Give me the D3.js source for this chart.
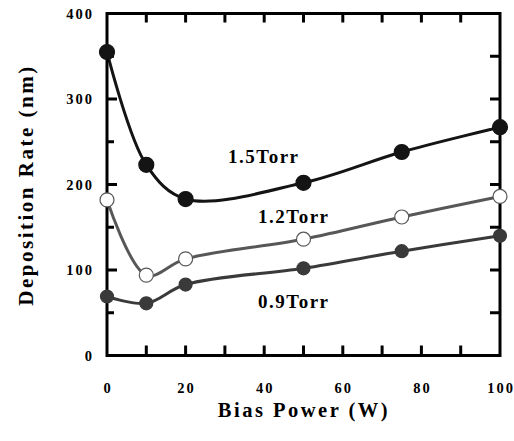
<!DOCTYPE html>
<html>
<head>
<meta charset="utf-8">
<script src="https://cdn.jsdelivr.net/npm/d3@7"></script>
<style>
  body { margin: 0; background: #fff; }
  text { font-family: "Liberation Serif", "Times New Roman", serif; font-weight: bold; }
</style>
</head>
<body>
<script>
// bias power (W)
const power = [0, 10, 20, 50, 75, 100];
// deposition rate (nm) per pressure
const rate15 = [355, 223, 183, 202, 238, 267];
const rate12 = [182, 94, 113, 136, 162, 186];
const rate09 = [69, 61, 83, 102, 122, 140];

const xTicks = [0, 20, 40, 60, 80, 100];
const yTicks = [0, 100, 200, 300, 400];

const width = 514, height = 441;
const margin = {top: 13.5, right: 14, bottom: 85.5, left: 107};

const svg = d3.select("body").append("svg")
  .attr("width", width)
  .attr("height", height);

const x = d3.scaleLinear().domain([0, 100]).range([margin.left, width - margin.right]);
const y = d3.scaleLinear().domain([0, 400]).range([height - margin.bottom, margin.top]);

// series
const series = [
  {name: "0.9Torr", values: rate09, stroke: "#3a3a3a", fill: "#3a3a3a", r: 6.5, lx: 258, ly: 308},
  {name: "1.2Torr", values: rate12, stroke: "#575757", fill: "#fff", r: 7, lx: 258, ly: 223},
  {name: "1.5Torr", values: rate15, stroke: "#141414", fill: "#141414", r: 7.5, lx: 228, ly: 163}
];

const line = d3.line()
  .x((d, i) => x(power[i]))
  .y(d => y(d))
  .curve(d3.curveCatmullRom);

series.forEach(s => {
  svg.append("path")
    .attr("d", line(s.values))
    .attr("fill", "none")
    .attr("stroke", s.stroke)
    .attr("stroke-width", 3);
});

// frame
const g = svg.append("g");
g.append("rect")
  .attr("x", x(0)).attr("y", y(400))
  .attr("width", x(100) - x(0)).attr("height", y(0) - y(400))
  .attr("fill", "none").attr("stroke", "#000").attr("stroke-width", 3);

// x ticks, inward on top and bottom
d3.range(10, 100, 10).forEach(v => {
  g.append("line").attr("x1", x(v)).attr("x2", x(v))
    .attr("y1", y(0)).attr("y2", y(0) - 10)
    .attr("stroke", "#000").attr("stroke-width", 3);
  g.append("line").attr("x1", x(v)).attr("x2", x(v))
    .attr("y1", y(400)).attr("y2", y(400) + 9)
    .attr("stroke", "#000").attr("stroke-width", 3);
});

// y ticks, left and right
d3.range(50, 400, 50).forEach(v => {
  const major = v % 100 === 0;
  g.append("line").attr("x1", x(0)).attr("x2", x(0) + (major ? 10 : 7))
    .attr("y1", y(v)).attr("y2", y(v))
    .attr("stroke", "#000").attr("stroke-width", 3);
  g.append("line").attr("x1", x(100)).attr("x2", x(100) - 10)
    .attr("y1", y(v)).attr("y2", y(v))
    .attr("stroke", "#000").attr("stroke-width", 3);
});

// tick labels
svg.selectAll(".xl").data(xTicks).enter().append("text")
  .attr("x", d => x(d) + 1).attr("y", 393)
  .attr("text-anchor", "middle").attr("font-size", 14.5).attr("letter-spacing", 2)
  .text(d => d);

svg.selectAll(".yl").data(yTicks).enter().append("text")
  .attr("x", 94).attr("y", d => y(d) + 5)
  .attr("text-anchor", "end").attr("font-size", 14.5).attr("letter-spacing", 2)
  .text(d => d);

// markers
series.forEach(s => {
  svg.selectAll(null).data(s.values).enter().append("circle")
    .attr("cx", (d, i) => x(power[i]))
    .attr("cy", d => y(d))
    .attr("r", s.r)
    .attr("fill", s.fill)
    .attr("stroke", s.fill === "#fff" ? s.stroke : s.fill)
    .attr("stroke-width", 1.2);
  svg.append("text")
    .attr("x", s.lx).attr("y", s.ly)
    .attr("font-size", 19).attr("letter-spacing", 1.5)
    .text(s.name);
});

// axis titles
svg.append("text")
  .attr("x", 304).attr("y", 417)
  .attr("text-anchor", "middle").attr("font-size", 20.5).attr("letter-spacing", 2.5)
  .text("Bias Power (W)");

svg.append("text")
  .attr("transform", "translate(33,185) rotate(-90)")
  .attr("text-anchor", "middle").attr("font-size", 21).attr("letter-spacing", 2.5)
  .text("Deposition Rate (nm)");
</script>
</body>
</html>
